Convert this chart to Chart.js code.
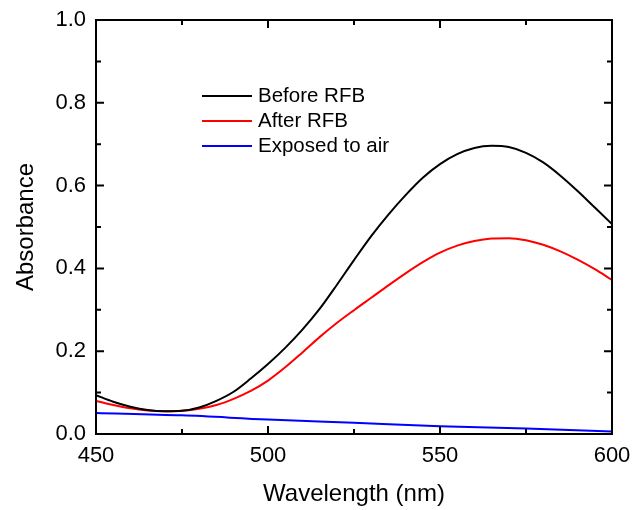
<!DOCTYPE html>
<html>
<head>
<meta charset="utf-8">
<script src="https://cdn.jsdelivr.net/npm/chart.js@4.4.1/dist/chart.umd.min.js"></script>
<style>
  html, body { margin: 0; padding: 0; background: #fff; }
  #wrap { width: 634px; height: 510px; }
</style>
</head>
<body>
<div id="wrap"><canvas id="chart" width="634" height="510"></canvas></div>
<script>
// wavelength (nm) and absorbance
const wavelengths = [450, 455, 460, 465, 470, 475, 480, 485, 490, 495, 500, 505, 510, 515, 520, 525,
                     530, 535, 540, 545, 550, 555, 560, 565, 570, 575, 580, 585, 590, 595, 600];
const beforeRFB = [0.094, 0.078, 0.066, 0.058, 0.055, 0.056, 0.064, 0.08, 0.102, 0.134, 0.169, 0.208,
                   0.252, 0.302, 0.36, 0.42, 0.478, 0.53, 0.577, 0.619, 0.652, 0.676, 0.691, 0.696,
                   0.693, 0.679, 0.656, 0.624, 0.587, 0.547, 0.507];
const afterRFB = [0.08, 0.07, 0.062, 0.057, 0.055, 0.056, 0.061, 0.07, 0.085, 0.104, 0.129, 0.161,
                  0.197, 0.234, 0.268, 0.299, 0.329, 0.359, 0.388, 0.415, 0.438, 0.455, 0.466, 0.472,
                  0.473, 0.468, 0.457, 0.441, 0.421, 0.398, 0.372];
const airWl = [450, 475, 500, 525, 550, 575, 600];
const exposedAir = [0.051, 0.045, 0.035, 0.027, 0.019, 0.013, 0.006];

const seriesNames = ['Before RFB', 'After RFB', 'Exposed to air'];
const seriesColors = ['#000000', '#ff0000', '#0000ff'];

function toPoints(xs, ys) {
    return xs.map((x, i) => ({ x: x, y: ys[i] }));
}

const FONT = 'Liberation Sans, Arial, sans-serif';

// box around plot + inward ticks (major and minor) on all sides
const frameTicks = {
    id: 'frameTicks',
    afterDatasetsDraw(chart) {
        const ctx = chart.ctx;
        const a = chart.chartArea;
        const xs = chart.scales.x, ys = chart.scales.y;
        ctx.save();
        ctx.strokeStyle = '#000';
        ctx.lineWidth = 2;
        ctx.strokeRect(a.left, a.top, a.right - a.left, a.bottom - a.top);
        ctx.beginPath();
        for (let v = 450; v <= 600; v += 25) {
            const px = xs.getPixelForValue(v);
            const len = (v % 50 === 0) ? 8 : 5;
            ctx.moveTo(px, a.bottom); ctx.lineTo(px, a.bottom - len);
            ctx.moveTo(px, a.top); ctx.lineTo(px, a.top + len);
        }
        for (let i = 0; i <= 10; i++) {
            const v = i / 10;
            const py = ys.getPixelForValue(v);
            const len = (i % 2 === 0) ? 8 : 5;
            ctx.moveTo(a.left, py); ctx.lineTo(a.left + len, py);
            ctx.moveTo(a.right, py); ctx.lineTo(a.right - len, py);
        }
        ctx.stroke();

        // legend inside plot
        ctx.font = '20.5px ' + FONT;
        ctx.textBaseline = 'middle';
        ctx.fillStyle = '#000';
        const lx = 202, ly0 = 96;
        seriesNames.forEach((name, i) => {
            const y = ly0 + i * 25;
            ctx.strokeStyle = seriesColors[i];
            ctx.lineWidth = 2;
            ctx.beginPath();
            ctx.moveTo(lx, y); ctx.lineTo(lx + 50, y);
            ctx.stroke();
            ctx.fillText(name, lx + 56, y);
        });
        ctx.restore();
    }
};

new Chart(document.getElementById('chart'), {
    type: 'line',
    data: {
        datasets: [
            { label: seriesNames[0], data: toPoints(wavelengths, beforeRFB), borderColor: seriesColors[0] },
            { label: seriesNames[1], data: toPoints(wavelengths, afterRFB), borderColor: seriesColors[1] },
            { label: seriesNames[2], data: toPoints(airWl, exposedAir), borderColor: seriesColors[2] }
        ]
    },
    options: {
        responsive: false,
        animation: false,
        layout: { padding: { top: 20, right: 22, left: 0, bottom: 0 } },
        elements: {
            point: { radius: 0 },
            line: { borderWidth: 2, tension: 0.4, cubicInterpolationMode: 'monotone' }
        },
        plugins: { legend: { display: false }, tooltip: { enabled: false } },
        scales: {
            x: {
                type: 'linear',
                min: 450, max: 600,
                afterFit(s) { s.height = 76; s.paddingLeft = 0; s.paddingRight = 0; },
                grid: { display: false, drawTicks: false },
                border: { display: false },
                ticks: { stepSize: 50, padding: 9, color: '#000', font: { family: FONT, size: 22 } },
                title: { display: true, text: 'Wavelength (nm)', color: '#000', padding: { top: 4, bottom: 1 },
                         font: { family: FONT, size: 24 } }
            },
            y: {
                min: 0, max: 1,
                afterFit(s) { s.width = 96; s.paddingTop = 0; s.paddingBottom = 0; },
                grid: { display: false, drawTicks: false },
                border: { display: false },
                ticks: { stepSize: 0.2, padding: 10, color: '#000', font: { family: FONT, size: 22 },
                         callback: v => v.toFixed(1) },
                title: { display: true, text: 'Absorbance', color: '#000', padding: { top: 12, bottom: 4 },
                         font: { family: FONT, size: 24 } }
            }
        }
    },
    plugins: [frameTicks]
});
</script>
</body>
</html>
